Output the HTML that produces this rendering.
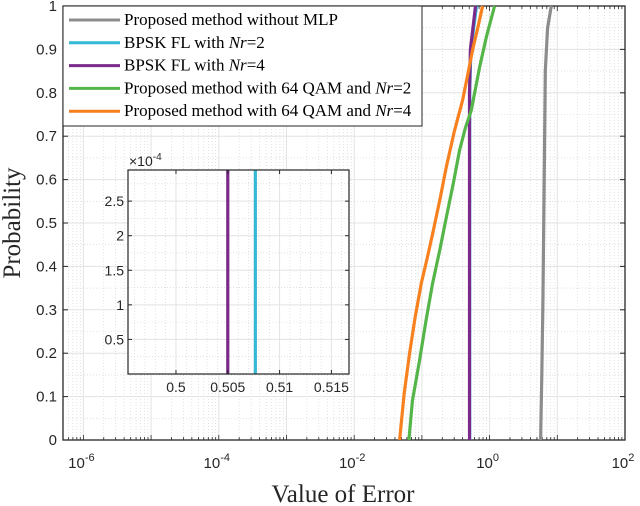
<!DOCTYPE html>
<html><head><meta charset="utf-8"><style>
body{margin:0;background:#fff}
svg{display:block}
.tk{font-family:"Liberation Sans",sans-serif;font-size:15px;fill:#262626}
.tki{font-family:"Liberation Sans",sans-serif;font-size:14px;fill:#262626}
.lg{font-family:"Liberation Serif",serif;font-size:17px;fill:#000}
.ax{font-family:"Liberation Serif",serif;font-size:25px;fill:#262626}
</style></head><body>
<svg id="c" width="640" height="506" xmlns="http://www.w3.org/2000/svg"></svg>
<script>
const xTickExps=[-6,-4,-2,0,2];
const yTicks=[0,0.1,0.2,0.3,0.4,0.5,0.6,0.7,0.8,0.9,1];
const seriesNames=["Proposed method without MLP","BPSK FL with Nr=2","BPSK FL with Nr=4","Proposed method with 64 QAM and Nr=2","Proposed method with 64 QAM and Nr=4"];
const grayX=[5.66,5.9,6.13,6.4,6.65,7.2,8.15];
const grayP=[0,0.15,0.315,0.6,0.85,0.95,1];
const cyanX=[0.5077,0.5077,0.53,0.64];
const cyanP=[0,0.8,0.9,1];
const purpleX=[0.505,0.505,0.52,0.62];
const purpleP=[0,0.8,0.9,1];
const greenX=[0.0643,0.0725,0.0925,0.115,0.144,0.185,0.229,0.29,0.360,0.44,0.537,0.711,0.9,1.186];
const greenP=[0,0.09,0.184,0.275,0.361,0.44,0.513,0.59,0.668,0.72,0.76,0.859,0.93,1];
const orangeX=[0.0469,0.055,0.0658,0.08,0.098,0.12,0.144,0.185,0.229,0.3,0.399,0.48,0.561,0.67,0.788];
const orangeP=[0,0.11,0.2,0.285,0.361,0.42,0.475,0.555,0.629,0.71,0.783,0.845,0.899,0.95,1];
const insetXTicks=[0.5,0.505,0.51,0.515];
const insetYTicks=[0.5,1,1.5,2,2.5];
const insetPurple=0.505;
const insetCyan=0.50766;

const svg=document.getElementById('c');const NS="http://www.w3.org/2000/svg";
function mk(t,a,p){const e=document.createElementNS(NS,t);for(const k in a)e.setAttribute(k,a[k]);(p||svg).appendChild(e);return e;}
const L=63,R=625,T=6,B=440;
const xmin=Math.log10(5e-7),xmax=2;
const X=v=>L+(Math.log10(v)-xmin)/(xmax-xmin)*(R-L);
const Y=p=>B-p*(B-T);
const g=mk('g',{});
for(let e=-7;e<2;e++)for(let m=1;m<10;m++){const v=m*Math.pow(10,e);if(v<5e-7||v>100)continue;const x=X(v);
 mk('line',{x1:x,x2:x,y1:T,y2:B,stroke:m==1?'#e3e3e3':'#d0d0d0','stroke-width':m==1?1:0.6,'stroke-dasharray':m==1?'':'1,2'},g);}
yTicks.forEach((p,i)=>{mk('line',{x1:L,x2:R,y1:Y(p),y2:Y(p),stroke:'#e3e3e3'},g);if(i<yTicks.length-1)mk('line',{x1:L,x2:R,y1:Y(p+0.05),y2:Y(p+0.05),stroke:'#d0d0d0','stroke-width':0.6,'stroke-dasharray':'1,2'},g);});
mk('rect',{x:L,y:T,width:R-L,height:B-T,fill:'none',stroke:'#262626','stroke-width':1.3});
for(let e=-7;e<2;e++)for(let m=1;m<10;m++){const v=m*Math.pow(10,e);if(v<5e-7||v>100)continue;const x=X(v);const len=m==1?5:3;
 mk('line',{x1:x,x2:x,y1:B,y2:B-len,stroke:'#262626','stroke-width':0.8});mk('line',{x1:x,x2:x,y1:T,y2:T+len,stroke:'#262626','stroke-width':0.8});}
xTickExps.forEach(e=>{const t=mk('text',{x:X(Math.pow(10,e))-2,y:468,'text-anchor':'middle',class:'tk'});
 t.textContent='10';const s=mk('tspan',{dy:-7,'font-size':11},t);s.textContent=String(e);});
yTicks.forEach(p=>{mk('line',{x1:L,x2:L+5,y1:Y(p),y2:Y(p),stroke:'#262626'});mk('line',{x1:R,x2:R-5,y1:Y(p),y2:Y(p),stroke:'#262626'});
 const t=mk('text',{x:57,y:Y(p)+5,'text-anchor':'end',class:'tk'});t.textContent=String(p);});
const xl=mk('text',{x:343,y:502,'text-anchor':'middle',class:'ax'});xl.textContent='Value of Error';
const yl=mk('text',{x:0,y:0,'text-anchor':'middle',class:'ax',transform:'translate(20,223) rotate(-90)'});yl.textContent='Probability';
function line(xs,ps,col,name){const d=xs.map((v,i)=>(i?'L':'M')+X(v).toFixed(1)+','+Y(ps[i]).toFixed(1)).join('');
 const e=mk('path',{d:d,fill:'none',stroke:col,'stroke-width':3.2,'stroke-linejoin':'round'});}
line(grayX,grayP,'#8c8c8c','series-without-mlp');
line(cyanX,cyanP,'#35b8d4','series-bpsk-nr2');
line(purpleX,purpleP,'#7b2a8c','series-bpsk-nr4');
line(greenX,greenP,'#55b549','series-qam-nr2');
line(orangeX,orangeP,'#f7801f','series-qam-nr4');
const lg=mk('g',{});
mk('rect',{x:L,y:T,width:359,height:120,fill:'#fff',stroke:'#262626','stroke-width':1},lg);
const cols=['#8c8c8c','#35b8d4','#7b2a8c','#55b549','#f7801f'];
seriesNames.forEach((n,i)=>{const y=20+i*22.8;const eg=mk('g',{},lg);
 mk('line',{x1:69,x2:120,y1:y,y2:y,stroke:cols[i],'stroke-width':3},eg);
 const t=mk('text',{x:124,y:y+5,class:'lg'},eg);
 if(n.indexOf('Nr')>=0){t.textContent=n.replace(/Nr=\d$/,'');const s=mk('tspan',{'font-style':'italic'},t);s.textContent='Nr';const s2=mk('tspan',{},t);s2.textContent=n.slice(-2);}else t.textContent=n;});
const IL=128,IR=349,IT=170,IB=374;
const ixmin=0.49537,ixmax=0.5167,iymin=0,iymax=2.95;
const IX=v=>IL+(v-ixmin)/(ixmax-ixmin)*(IR-IL);
const IY=v=>IB-(v-iymin)/(iymax-iymin)*(IB-IT);
const ig=mk('g',{});
mk('rect',{x:IL,y:IT,width:IR-IL,height:IB-IT,fill:'#fff'},ig);
for(let v=0.496;v<0.5167;v+=0.001){const x=IX(v);const maj=Math.abs((v*1000)%5)<0.01||Math.abs((v*1000)%5-5)<0.01;
 mk('line',{x1:x,x2:x,y1:IT,y2:IB,stroke:maj?'#e3e3e3':'#d0d0d0','stroke-width':maj?1:0.6,'stroke-dasharray':maj?'':'1,2'},ig);}
for(let v=0.25;v<2.95;v+=0.25){const y=IY(v);const maj=Math.abs(v*2-Math.round(v*2))<0.01;
 mk('line',{x1:IL,x2:IR,y1:y,y2:y,stroke:maj?'#e3e3e3':'#d0d0d0','stroke-width':maj?1:0.6,'stroke-dasharray':maj?'':'1,2'},ig);}
const ip=mk('line',{x1:IX(insetPurple),x2:IX(insetPurple),y1:IT,y2:IB,stroke:'#7b2a8c','stroke-width':3.2},ig);
const ic=mk('line',{x1:IX(insetCyan),x2:IX(insetCyan),y1:IT,y2:IB,stroke:'#35b8d4','stroke-width':3.2},ig);
mk('rect',{x:IL,y:IT,width:IR-IL,height:IB-IT,fill:'none',stroke:'#262626','stroke-width':1.2},ig);
insetXTicks.forEach(v=>{const x=IX(v);mk('line',{x1:x,x2:x,y1:IB,y2:IB-4,stroke:'#262626'},ig);mk('line',{x1:x,x2:x,y1:IT,y2:IT+4,stroke:'#262626'},ig);
 const t=mk('text',{x:x,y:392,'text-anchor':'middle',class:'tki'},ig);t.textContent=String(v);});
insetYTicks.forEach(v=>{const y=IY(v);mk('line',{x1:IL,x2:IL+4,y1:y,y2:y,stroke:'#262626'},ig);mk('line',{x1:IR,x2:IR-4,y1:y,y2:y,stroke:'#262626'},ig);
 const t=mk('text',{x:124,y:y+5,'text-anchor':'end',class:'tki'},ig);t.textContent=String(v);});
const ex=mk('text',{x:129,y:166,class:'tki'},ig);
ex.textContent='×10';const es=mk('tspan',{dy:-6,'font-size':10},ex);es.textContent='-4';
</script>
</body></html>
